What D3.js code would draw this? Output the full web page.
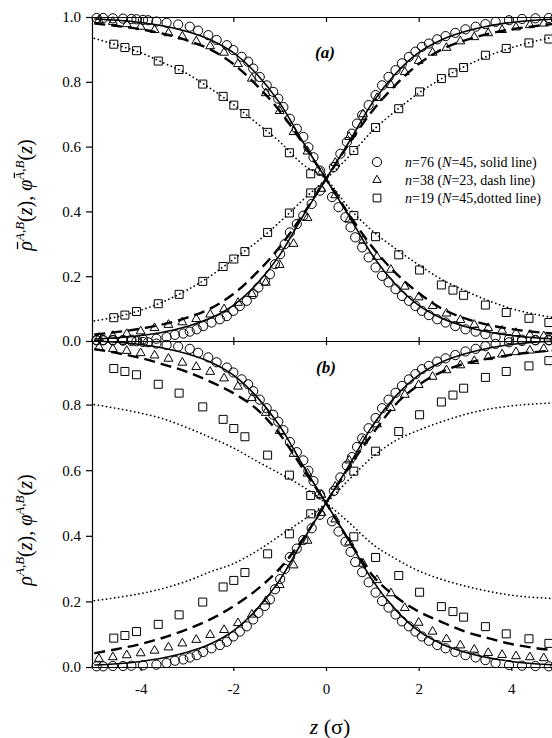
<!DOCTYPE html>
<html>
<head>
<meta charset="utf-8">
<script src="https://cdn.jsdelivr.net/npm/d3@7"></script>
<style>
  html, body { margin: 0; padding: 0; background: #fff; }
  svg { display: block; }
  text { font-family: "Liberation Serif", "DejaVu Serif", serif; fill: #000; }
</style>
</head>
<body>
<svg id="chart" width="552" height="738"></svg>
<script>
// ---------- DATA ----------
const zGrid = [-5,-4.5,-4,-3.5,-3,-2.5,-2,-1.5,-1,-0.5,0,0.5,1,1.5,2,2.5,3,3.5,4,4.5,5];

// theory lines (both panels share the solid line, n=76)
const solidInc = [.006,.01,.017,.028,.045,.07,.11,.175,.265,.385,.5,.615,.735,.825,.89,.93,.955,.972,.983,.99,.994];
const solidDec = [.994,.99,.983,.972,.955,.93,.89,.825,.735,.615,.5,.385,.265,.175,.11,.07,.045,.028,.017,.01,.006];
// panel (a)
const dashAInc = [.02,.028,.038,.052,.072,.10,.145,.21,.29,.39,.5,.61,.71,.79,.855,.90,.928,.948,.962,.972,.98];
const dashADec = [.98,.972,.962,.948,.928,.90,.855,.79,.71,.61,.5,.39,.29,.21,.148,.10,.07,.05,.037,.028,.022];
const dotAInc  = [.062,.075,.095,.122,.157,.2,.252,.305,.367,.435,.5,.57,.648,.71,.765,.81,.848,.88,.905,.925,.94];
const dotADec  = [.934,.913,.89,.858,.825,.78,.73,.673,.615,.545,.5,.41,.34,.285,.235,.19,.155,.125,.10,.083,.07];
// panel (b)
const dashBInc = [.042,.055,.07,.09,.115,.145,.185,.235,.30,.39,.5,.61,.71,.80,.86,.90,.925,.94,.952,.96,.966];
const dashBDec = [.969,.957,.942,.922,.90,.87,.835,.787,.71,.605,.5,.385,.28,.215,.169,.137,.108,.088,.07,.058,.05];
const dotBInc  = [.202,.212,.224,.24,.262,.29,.315,.353,.40,.447,.5,.572,.64,.69,.722,.748,.77,.786,.796,.802,.806];
const dotBDec  = [.80,.788,.774,.756,.73,.70,.668,.628,.59,.55,.5,.44,.375,.33,.293,.267,.247,.231,.219,.212,.208];

// circles n=76 (shared by both panels)
const circZDec = [-4.95,-4.81,-4.6,-4.38,-4.2,-4.09,-3.95,-3.84,-3.66,-3.44,-3.19,-2.94,-2.76,-2.54,-2.36,-2.14,-2.0,-1.82,-1.68,-1.57,-1.43,-1.28,-1.14,-1.03,-0.92,-0.78,-0.63,-0.49,-0.38,-0.27,-0.13,
  0.13,0.27,0.42,0.53,0.63,0.78,0.92,1.07,1.21,1.35,1.50,1.64,1.79,1.93,2.07,2.22,2.40,2.58,2.79,3.01,3.23,3.44,3.66,3.95,4.23,4.52,4.81,4.95];
const circVDec = [.997,.997,.996,.995,.994,.993,.991,.99,.986,.982,.977,.97,.958,.944,.929,.913,.898,.877,.862,.841,.815,.789,.769,.748,.722,.686,.655,.63,.598,.567,.526,
  .444,.413,.382,.351,.320,.289,.258,.227,.201,.181,.160,.139,.124,.108,.093,.080,.067,.057,.046,.036,.029,.021,.012,.006,.004,.003,.002,.002];
const circZInc = [-4.95,-4.81,-4.6,-4.38,-4.2,-3.95,-3.66,-3.44,-3.26,-3.08,-2.94,-2.79,-2.65,-2.47,-2.29,-2.14,-2.0,-1.86,-1.71,-1.57,-1.46,-1.32,-1.21,-1.10,-0.99,-0.89,-0.78,-0.63,-0.49,-0.31,-0.13,
  0.17,0.31,0.45,0.56,0.67,0.78,0.92,1.07,1.21,1.35,1.50,1.64,1.79,1.93,2.07,2.22,2.40,2.58,2.79,3.01,3.23,3.44,3.66,3.95,4.23,4.52,4.81,4.95];
const circVInc = [.002,.002,.003,.003,.004,.005,.007,.012,.019,.023,.029,.036,.046,.057,.067,.077,.093,.108,.124,.145,.165,.186,.206,.237,.268,.299,.335,.361,.387,.423,.464,
  .537,.578,.614,.640,.671,.697,.728,.759,.789,.815,.836,.857,.877,.893,.908,.918,.931,.941,.951,.962,.970,.978,.985,.99,.994,.996,.997,.997];

// triangles n=38
const triZ = [-4.9,-4.6,-4.3,-4.0,-3.7,-3.4,-3.1,-2.8,-2.5,-2.2,-1.9,-1.6,-1.3,-1.0,-0.7,-0.4,-0.1,0.2,0.5,0.8,1.1,1.4,1.7,2.0,2.3,2.6,2.9,3.2,3.5,3.8,4.1,4.4,4.7,5.0];
const triAInc = [.01,.016,.022,.03,.04,.05,.058,.068,.082,.098,.118,.145,.18,.235,.30,.38,.47,.55,.63,.70,.75,.79,.83,.865,.89,.905,.925,.938,.95,.96,.968,.975,.98,.985];
const triADec = [.99,.985,.978,.97,.96,.95,.94,.925,.91,.89,.855,.81,.765,.71,.645,.585,.52,.45,.375,.31,.26,.22,.168,.135,.108,.085,.065,.05,.04,.032,.025,.019,.015,.012];
const triBInc = [.025,.03,.036,.042,.05,.06,.072,.083,.098,.113,.134,.16,.2,.25,.31,.385,.47,.55,.63,.69,.74,.79,.83,.86,.885,.905,.92,.933,.945,.953,.96,.965,.97,.975];
const triBDec = [.975,.97,.964,.957,.95,.94,.928,.915,.9,.88,.855,.82,.775,.72,.65,.59,.525,.45,.38,.315,.265,.225,.18,.135,.108,.085,.066,.053,.043,.037,.033,.03,.027,.025];

// squares n=19
const sqZ = [-4.58,-4.34,-4.09,-3.62,-3.17,-2.66,-2.22,-1.99,-1.75,-1.26,-0.79,-0.33,0.60,1.07,1.57,2.02,2.49,2.74,2.97,3.44,3.89,4.38,4.81];
const sqAInc = [.072,.080,.091,.115,.144,.184,.230,.253,.276,.335,.395,.457,.588,.659,.717,.769,.810,.828,.844,.882,.903,.920,.932];
const sqADec = [.916,.906,.896,.864,.838,.793,.755,.728,.702,.644,.581,.516,.387,.322,.266,.219,.173,.157,.141,.111,.088,.070,.057];
const sqBInc = [.088,.096,.108,.130,.159,.198,.244,.264,.288,.345,.406,.467,.597,.658,.718,.769,.808,.829,.850,.883,.901,.918,.934];
const sqBDec = [.910,.901,.891,.862,.835,.793,.755,.727,.702,.646,.585,.523,.397,.334,.279,.228,.184,.169,.152,.123,.101,.086,.072];

const xTicks = [-4,-2,0,2,4];
const xTickLabels = ["-4","-2","0","2","4"];
const yTicksA = [0,0.2,0.4,0.6,0.8,1.0];
const yTicksB = [0,0.2,0.4,0.6,0.8];

// ---------- DRAWING ----------
const svg = d3.select("#chart");
const x = d3.scaleLinear().domain([-5.05,5.05]).range([92,560]);
const yA = d3.scaleLinear().domain([0,1]).range([341,17]);
const yB = d3.scaleLinear().domain([0,1]).range([667,339]);

const plot = svg.append("g");

function drawLine(y, vals, style){
  const line = d3.line().x((d,i)=>x(zGrid[i])).y(d=>y(d)).curve(d3.curveMonotoneX);
  const p = plot.append("path").datum(vals).attr("d", line)
    .attr("fill","none").attr("stroke","#000");
  if (style === "solid") p.attr("stroke-width",1.6);
  if (style === "dash") p.attr("stroke-width",2.4).attr("stroke-dasharray","11,6");
  if (style === "dot") p.attr("stroke-width",1.7).attr("stroke-dasharray","0.1,4").attr("stroke-linecap","round");
}
function drawCircles(y, zs, vs){
  plot.append("g").selectAll("circle").data(vs).join("circle")
    .attr("cx",(d,i)=>x(zs[i])).attr("cy",d=>y(d)).attr("r",4.6)
    .attr("fill","none").attr("stroke","#000").attr("stroke-width",1);
}
function drawSymbols(y, zs, vs, type, size){
  const sym = d3.symbol().type(type).size(size);
  plot.append("g").selectAll("path").data(vs).join("path")
    .attr("d", sym)
    .attr("transform",(d,i)=>`translate(${x(zs[i])},${y(d)})`)
    .attr("fill","none").attr("stroke","#000").attr("stroke-width",1);
}

// panel a
drawLine(yA, solidInc, "solid"); drawLine(yA, solidDec, "solid");
drawLine(yA, dashAInc, "dash");  drawLine(yA, dashADec, "dash");
drawLine(yA, dotAInc, "dot");    drawLine(yA, dotADec, "dot");
drawCircles(yA, circZDec, circVDec); drawCircles(yA, circZInc, circVInc);
drawSymbols(yA, triZ, triAInc, d3.symbolTriangle, 34);
drawSymbols(yA, triZ, triADec, d3.symbolTriangle, 34);
drawSymbols(yA, sqZ, sqAInc, d3.symbolSquare, 64);
drawSymbols(yA, sqZ, sqADec, d3.symbolSquare, 64);
// panel b
drawLine(yB, solidInc, "solid"); drawLine(yB, solidDec, "solid");
drawLine(yB, dashBInc, "dash");  drawLine(yB, dashBDec, "dash");
drawLine(yB, dotBInc, "dot");    drawLine(yB, dotBDec, "dot");
drawCircles(yB, circZDec, circVDec); drawCircles(yB, circZInc, circVInc);
drawSymbols(yB, triZ, triBInc, d3.symbolTriangle, 34);
drawSymbols(yB, triZ, triBDec, d3.symbolTriangle, 34);
drawSymbols(yB, sqZ, sqBInc, d3.symbolSquare, 64);
drawSymbols(yB, sqZ, sqBDec, d3.symbolSquare, 64);

// axes
function styleAxis(g){
  g.selectAll("path.domain").attr("stroke","#000").attr("stroke-width",1.2);
  g.selectAll(".tick line").attr("stroke","#000").attr("stroke-width",1.2);
  g.selectAll("text").style("font-family",'"Liberation Serif", serif').style("font-size","15px");
}
const fmt = d3.format(".1f");
svg.append("g").attr("transform","translate(92,0)")
  .call(d3.axisLeft(yA).tickValues(yTicksA).tickFormat(fmt).tickSize(6).tickPadding(5).tickSizeOuter(0))
  .call(styleAxis);
svg.append("g").attr("transform","translate(92,0)")
  .call(d3.axisLeft(yB).tickValues(yTicksB).tickFormat(fmt).tickSize(6).tickPadding(5).tickSizeOuter(0))
  .call(styleAxis);
svg.append("g").attr("transform","translate(0,17)")
  .call(d3.axisBottom(x).tickValues(xTicks).tickFormat("").tickSize(5).tickSizeOuter(0))
  .call(styleAxis);
svg.append("g").attr("transform","translate(0,341)")
  .call(d3.axisTop(x).tickValues(xTicks).tickFormat("").tickSize(4).tickSizeOuter(0))
  .call(styleAxis);
svg.append("g").attr("transform","translate(0,341)")
  .call(d3.axisBottom(x).tickValues(xTicks).tickFormat("").tickSize(4).tickSizeOuter(0))
  .call(styleAxis);
svg.append("g").attr("transform","translate(0,667)")
  .call(d3.axisBottom(x).tickValues(xTicks).tickFormat((d,i)=>xTickLabels[i]).tickSize(4).tickPadding(12).tickSizeOuter(0))
  .call(styleAxis);

// panel labels
svg.append("text").attr("x",325).attr("y",58).attr("text-anchor","middle")
  .style("font-size","17px").style("font-weight","bold").style("font-style","italic").text("(a)");
svg.append("text").attr("x",326).attr("y",373).attr("text-anchor","middle")
  .style("font-size","17px").style("font-weight","bold").style("font-style","italic").text("(b)");

// legend
const legY = [162,180,198];
const legSym = [null, d3.symbolTriangle, d3.symbolSquare];
const legN = ["76","38","19"];
const legRest = ["=45, solid line)","=23, dash line)","=45,dotted line)"];
legY.forEach((yy,i)=>{
  if (i===0) svg.append("circle").attr("cx",377).attr("cy",yy).attr("r",4.6).attr("fill","none").attr("stroke","#000");
  else svg.append("path").attr("d",d3.symbol().type(legSym[i]).size(i===1?30:60)())
    .attr("transform",`translate(377,${yy})`).attr("fill","none").attr("stroke","#000");
  const t = svg.append("text").attr("x",405).attr("y",yy+5).style("font-size","14px");
  t.append("tspan").style("font-style","italic").text("n");
  t.append("tspan").text("="+legN[i]+" (");
  t.append("tspan").style("font-style","italic").text("N");
  t.append("tspan").text(legRest[i]);
});

// y titles
function yTitle(cx, cy, bar){
  const g = svg.append("g").attr("transform",`translate(${cx},${cy}) rotate(-90)`);
  const t = g.append("text").attr("text-anchor","middle").style("font-size","20px");
  t.append("tspan").style("font-style","italic").text("\u03C1");
  t.append("tspan").attr("dy","-8").style("font-size","13px").style("font-style","italic").text("A,B");
  t.append("tspan").attr("dy","8").text("(");
  t.append("tspan").style("font-style","italic").text("z");
  t.append("tspan").text("),  ");
  t.append("tspan").style("font-style","italic").text("\u03C6");
  t.append("tspan").attr("dy","-8").style("font-size","13px").style("font-style","italic").text("A,B");
  t.append("tspan").attr("dy","8").text("(");
  t.append("tspan").style("font-style","italic").text("z");
  t.append("tspan").text(")");
  if (bar) {
    [0, 10].forEach(ci=>{
      const e = t.node().getExtentOfChar(ci);
      g.append("line").attr("x1",e.x+1.5).attr("x2",e.x+e.width-1)
        .attr("y1",e.y+e.height*0.16).attr("y2",e.y+e.height*0.16)
        .attr("stroke","#000").attr("stroke-width",1.3);
    });
  }
}
yTitle(32, 195, true);
yTitle(32, 530, false);

// x title
const xt = svg.append("text").attr("x",330).attr("y",734).attr("text-anchor","middle").style("font-size","22px");
xt.append("tspan").style("font-style","italic").text("z");
xt.append("tspan").text(" (\u03C3)");
</script>
</body>
</html>
